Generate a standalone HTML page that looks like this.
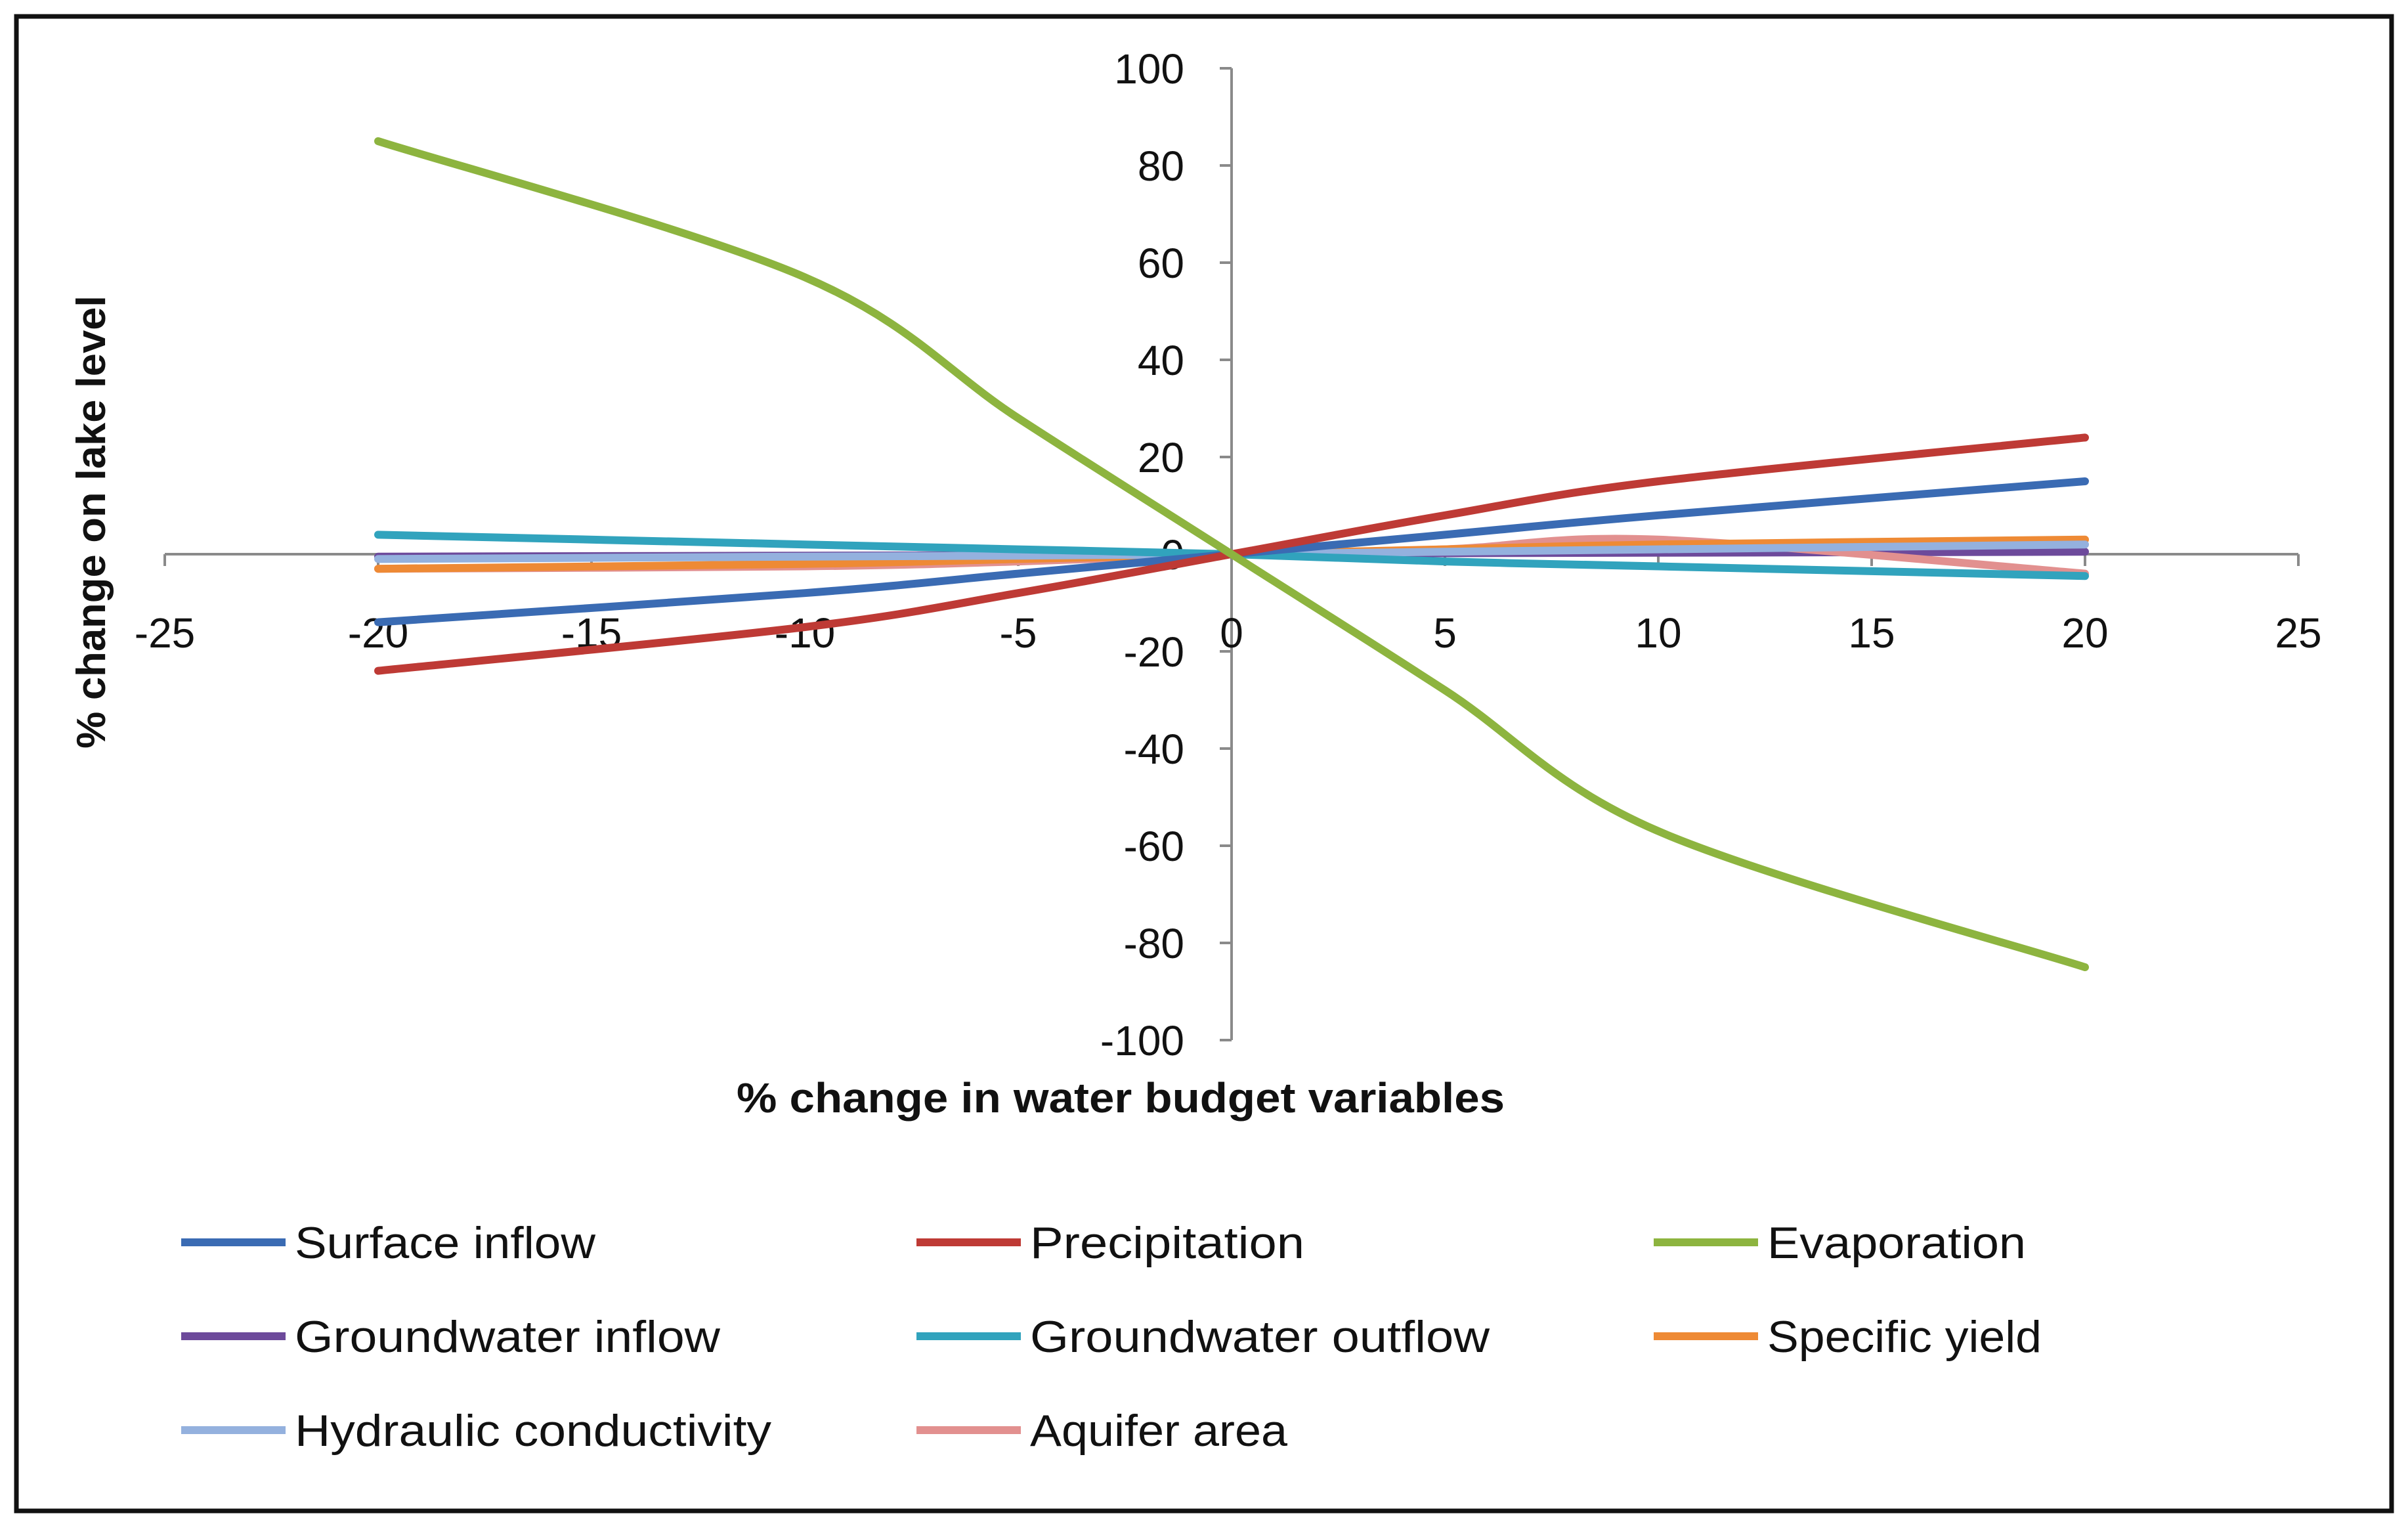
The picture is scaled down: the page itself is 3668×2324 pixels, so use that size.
<!DOCTYPE html>
<html><head><meta charset="utf-8"><style>
html,body{margin:0;padding:0;background:#fff;}
svg{display:block;font-family:"Liberation Sans",sans-serif;}
</style></head><body>
<svg id="chart" width="3668" height="2324" viewBox="0 0 3668 2324" xmlns="http://www.w3.org/2000/svg">
<rect x="25" y="25" width="3618" height="2276" fill="#fff" stroke="#111" stroke-width="7"/>
<g id="axes"></g>
<g id="series"></g>
<text transform="translate(160,795) rotate(-90)" text-anchor="middle" font-size="62" font-weight="bold" fill="#111" textLength="690" lengthAdjust="spacingAndGlyphs">% change on lake level</text>
<text x="1707" y="1694" text-anchor="middle" font-size="64" font-weight="bold" fill="#111" textLength="1170" lengthAdjust="spacingAndGlyphs">% change in water budget variables</text>
<g id="legend"></g>
</svg>
<script>
const xCats=[-20,-10,-5,0,5,10,20];
const surfaceInflow=[-14,-8,-4,0,4,8,15];
const precipitation=[-24,-15,-8,0,8,15,24];
const evaporation=[85,57,28,0,-28,-57,-85];
const groundwaterInflow=[-0.5,-0.3,-0.2,0,0.2,0.3,0.5];
const groundwaterOutflow=[4,2,1,0,-1.5,-2.5,-4.5];
const specificYield=[-3,-2,-1,0,1,2,3];
const hydraulicConductivity=[-1,-0.5,-0.3,0,0.5,1,2];
const aquiferArea=[-3,-2.5,-1.5,0,1,3,-4];
const xTicks=[-25,-20,-15,-10,-5,0,5,10,15,20,25];
const yTicks=[100,80,60,40,20,0,-20,-40,-60,-80,-100];
const seriesNames=["Surface inflow","Precipitation","Evaporation","Groundwater inflow","Groundwater outflow","Specific yield","Hydraulic conductivity","Aquifer area"];
const seriesColors=["#3a6bb3","#be3a35","#8db43f","#6d4a9b","#31a3bd","#ee8a35","#94b1de","#e2908f"];
const seriesData=[surfaceInflow,precipitation,evaporation,groundwaterInflow,groundwaterOutflow,specificYield,hydraulicConductivity,aquiferArea];
const legendWidths=[458,418,394,648,700,418,726,392];

const NS="http://www.w3.org/2000/svg";
const X=v=>1876+v*65;
const Y=v=>844-v*7.4;
function mk(t,a,p){const e=document.createElementNS(NS,t);for(const k in a)e.setAttribute(k,a[k]);p.appendChild(e);return e;}
const axes=document.getElementById('axes');
let ax=mk('line',{x1:X(-25),x2:X(25),y1:Y(0),y2:Y(0),stroke:'#8a8a8a','stroke-width':4},axes);


let ay=mk('line',{x1:X(0),x2:X(0),y1:Y(100),y2:Y(-100),stroke:'#8a8a8a','stroke-width':4},axes);


xTicks.forEach(t=>{
  mk('line',{x1:X(t),x2:X(t),y1:Y(0),y2:Y(0)+18,stroke:'#8a8a8a','stroke-width':4},axes);
  const tx=mk('text',{x:X(t),y:Y(0)+142,'text-anchor':'middle','font-size':64,fill:'#111'},axes);
  tx.textContent=t;
  
  
});
yTicks.forEach(t=>{
  mk('line',{x1:X(0)-18,x2:X(0),y1:Y(t),y2:Y(t),stroke:'#8a8a8a','stroke-width':4},axes);
  const tx=mk('text',{x:X(0)-72,y:Y(t)+23,'text-anchor':'end','font-size':64,fill:'#111'},axes);
  tx.textContent=t;
  
  
});
function smooth(pts){
  let d='M'+pts[0][0]+','+pts[0][1];
  for(let i=0;i<pts.length-1;i++){
    const p0=pts[Math.max(0,i-1)],p1=pts[i],p2=pts[i+1],p3=pts[Math.min(pts.length-1,i+2)];
    const c1=[p1[0]+(p2[0]-p0[0])/6,p1[1]+(p2[1]-p0[1])/6];
    const c2=[p2[0]-(p3[0]-p1[0])/6,p2[1]-(p3[1]-p1[1])/6];
    d+=' C'+c1.join(',')+' '+c2.join(',')+' '+p2.join(',');
  }
  return d;
}
const sg=document.getElementById('series');
const order=[3,7,5,6,4,0,1,2];
order.forEach(i=>{
  const pts=xCats.map((x,j)=>[X(x),Y(seriesData[i][j])]);
  const p=mk('path',{d:smooth(pts),fill:'none',stroke:seriesColors[i],'stroke-width':12,'stroke-linecap':'round','stroke-linejoin':'round'},sg);
  
  
});
const lg=document.getElementById('legend');
const colX=[276,1396,2519];
const rowY=[1892,2035,2178];
seriesNames.forEach((n,i)=>{
  const cx=colX[i%3],cy=rowY[Math.floor(i/3)];
  const g=mk('g',{},lg);
  
  
  mk('line',{x1:cx,x2:cx+159,y1:cy,y2:cy,stroke:seriesColors[i],'stroke-width':12},g);
  const t=mk('text',{x:cx+173,y:cy+24,'font-size':68,fill:'#111',textLength:legendWidths[i],lengthAdjust:'spacingAndGlyphs'},g);
  t.textContent=n;
});
</script>
</body></html>
